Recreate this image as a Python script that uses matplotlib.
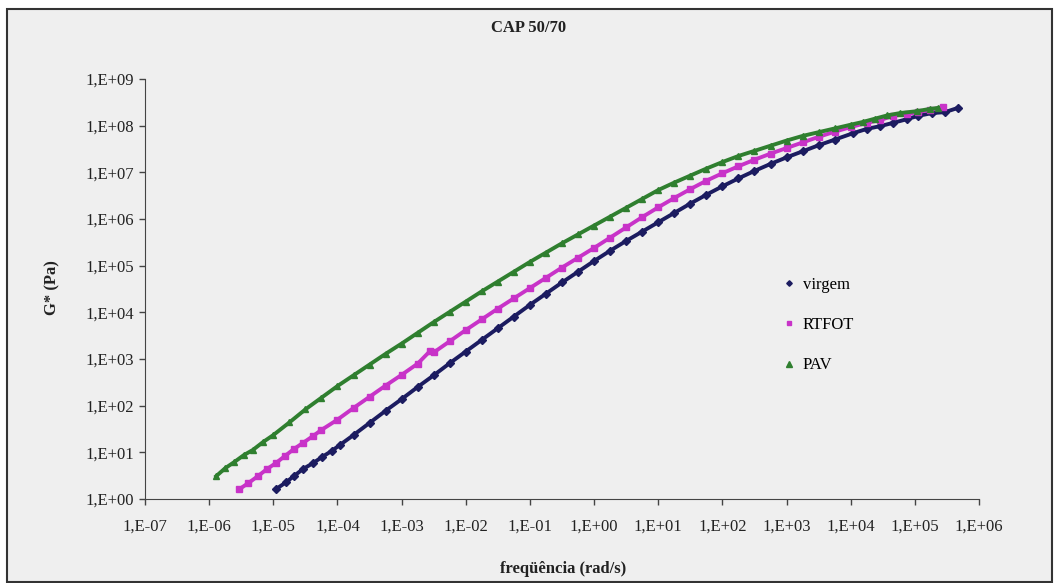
import numpy as np
import matplotlib.pyplot as plt
from matplotlib.patches import Rectangle
from matplotlib.lines import Line2D
import matplotlib.ticker as mticker

# Data (log10 of frequency in rad/s, log10 of G* in Pa)
virgem_logw = [-4.96, -4.80, -4.68, -4.54, -4.38, -4.24, -4.09, -3.96, -3.75, -3.5,
               -3.25, -3.0, -2.75, -2.5, -2.25, -2.0, -1.75, -1.5, -1.25, -1.0,
               -0.75, -0.5, -0.25, 0.0, 0.25, 0.5, 0.75, 1.0, 1.25, 1.5,
               1.75, 2.0, 2.25, 2.5, 2.75, 3.0, 3.25, 3.5, 3.75, 4.04,
               4.25, 4.46, 4.66, 4.88, 5.05, 5.27, 5.47, 5.67]
virgem_logg = [0.21, 0.36, 0.49, 0.64, 0.77, 0.90, 1.03, 1.16, 1.37, 1.63,
               1.89, 2.14, 2.40, 2.65, 2.91, 3.16, 3.41, 3.66, 3.91, 4.16,
               4.40, 4.64, 4.87, 5.10, 5.32, 5.53, 5.73, 5.93, 6.13, 6.33,
               6.52, 6.70, 6.87, 7.03, 7.18, 7.32, 7.45, 7.58, 7.70, 7.84,
               7.93, 7.99, 8.06, 8.14, 8.21, 8.27, 8.29, 8.38]

rtfot_logw = [-5.53, -5.39, -5.24, -5.10, -4.96, -4.82, -4.68, -4.54, -4.38, -4.25,
              -4.0, -3.75, -3.5, -3.25, -3.0, -2.75, -2.55, -2.5, -2.25, -2.0,
              -1.75, -1.5, -1.25, -1.0, -0.75, -0.5, -0.25, 0.0, 0.25, 0.5,
              0.75, 1.0, 1.25, 1.5, 1.75, 2.0, 2.25, 2.5, 2.75, 3.0,
              3.25, 3.5, 3.75, 4.0, 4.25, 4.46, 4.66, 4.88, 5.05, 5.24, 5.44]
rtfot_logg = [0.21, 0.34, 0.49, 0.64, 0.77, 0.92, 1.07, 1.20, 1.35, 1.48,
              1.70, 1.95, 2.19, 2.43, 2.66, 2.90, 3.18, 3.14, 3.38, 3.62,
              3.85, 4.08, 4.30, 4.52, 4.74, 4.96, 5.17, 5.38, 5.60, 5.82,
              6.04, 6.25, 6.45, 6.64, 6.82, 6.98, 7.13, 7.27, 7.40, 7.52,
              7.64, 7.76, 7.87, 7.97, 8.06, 8.12, 8.21, 8.25, 8.29, 8.34, 8.40]

pav_logw = [-5.89, -5.75, -5.61, -5.46, -5.32, -5.16, -5.0, -4.75, -4.5, -4.25,
            -4.0, -3.75, -3.5, -3.25, -3.0, -2.75, -2.5, -2.25, -2.0, -1.75,
            -1.5, -1.25, -1.0, -0.75, -0.5, -0.25, 0.0, 0.25, 0.5, 0.75,
            1.0, 1.25, 1.5, 1.75, 2.0, 2.25, 2.5, 2.75, 3.0, 3.25,
            3.5, 3.75, 4.0, 4.19, 4.38, 4.57, 4.77, 5.03, 5.24, 5.36]
pav_logg = [0.49, 0.66, 0.79, 0.94, 1.05, 1.22, 1.37, 1.64, 1.92, 2.17,
            2.42, 2.65, 2.88, 3.11, 3.33, 3.56, 3.79, 4.01, 4.23, 4.45,
            4.66, 4.87, 5.08, 5.28, 5.48, 5.67, 5.86, 6.05, 6.24, 6.43,
            6.62, 6.78, 6.93, 7.08, 7.22, 7.35, 7.46, 7.57, 7.68, 7.78,
            7.86, 7.94, 8.02, 8.08, 8.15, 8.22, 8.27, 8.31, 8.36, 8.38]

series = [
    ('virgem', virgem_logw, virgem_logg, '#1c1c60', 'D', 3.6),
    ('RTFOT', rtfot_logw, rtfot_logg, '#c833c8', 's', 4.0),
    ('PAV', pav_logw, pav_logg, '#2f7f2f', '^', 4.4),
]

plt.rcParams['font.family'] = ['Liberation Serif', 'DejaVu Serif']

W, H = 1057, 583
fig = plt.figure(figsize=(W / 100, H / 100), dpi=100)
fig.patch.set_facecolor('white')

# chart area box (drawn behind the axes)
fig.patches.append(Rectangle((7 / W, 1 / H), (1052 - 7) / W, (574 - 1) / H,
                             transform=fig.transFigure, facecolor='#efefef',
                             edgecolor='#333333', lw=1.5, zorder=-10))

ax = fig.add_axes([145 / W, 1 - 499 / H, (979 - 145) / W, (499 - 79) / H])
ax.set_zorder(1)
ax.set_facecolor('#efefef')
ax.set_xscale('log')
ax.set_yscale('log')
ax.set_xlim(1e-7, 1e6)
ax.set_ylim(1, 1e9)

for name, lw_, lg_, c, m, ms in series:
    w = 10 ** np.array(lw_)
    g = 10 ** np.array(lg_)
    ax.plot(w, g, color=c, lw=2.8, marker=m, ms=ms, mec=c, mfc=c, clip_on=False)

ax.spines['top'].set_visible(False)
ax.spines['right'].set_visible(False)
ax.spines['left'].set_color('#444444')
ax.spines['bottom'].set_color('#444444')

fmt = mticker.FuncFormatter(lambda v, p: '1,E%+03d' % int(round(np.log10(v))))
ax.xaxis.set_major_locator(mticker.LogLocator(base=10, numticks=20))
ax.yaxis.set_major_locator(mticker.LogLocator(base=10, numticks=20))
ax.xaxis.set_minor_locator(mticker.NullLocator())
ax.yaxis.set_minor_locator(mticker.NullLocator())
ax.xaxis.set_major_formatter(fmt)
ax.yaxis.set_major_formatter(fmt)
ax.tick_params(axis='both', labelsize=12, colors='#444444', labelcolor='#222222',
               length=4, width=1)
ax.tick_params(axis='x', pad=10)
ax.tick_params(axis='y', pad=4)

handles = [Line2D([], [], ls='none', marker=m, color=c, ms=ms - 0.8)
           for name, lw_, lg_, c, m, ms in series]
fig.legend(handles, [s[0] for s in series], loc='upper left',
           bbox_to_anchor=(768 / W, 1 - 262 / H), frameon=False, fontsize=12,
           labelspacing=1.45, handlelength=0.7, handletextpad=0.5)

fig.text(0.5, 1 - 28 / H, 'CAP 50/70', ha='center', va='center',
         fontsize=12, fontweight='bold', color='#222222')
fig.text(52 / W, 1 - 288 / H, 'G* (Pa)', rotation=90, ha='center', va='center',
         fontsize=12, fontweight='bold', color='#222222')
fig.text(563 / W, 1 - 569 / H, 'freqüência (rad/s)', ha='center', va='center',
         fontsize=12, fontweight='bold', color='#222222')

fig.savefig('out.png', dpi=100, facecolor=fig.get_facecolor())
